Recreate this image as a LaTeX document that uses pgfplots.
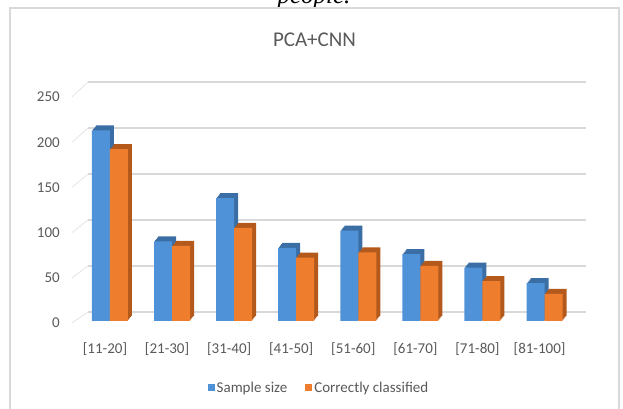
\documentclass[border=0pt]{standalone}
\usepackage{pgfplots}
\pgfplotsset{compat=1.18}
\usepackage{pgfplotstable}
\usepackage{fontspec}
\setmainfont{Carlito}
\newfontfamily\captionfont{Liberation Serif}

\definecolor{barblue}{HTML}{5092D8}
\definecolor{barbluedark}{HTML}{3A6EA5}
\definecolor{barorange}{HTML}{EE7D2E}
\definecolor{barorangedark}{HTML}{B3591C}
\definecolor{txtgray}{HTML}{595959}
\definecolor{gridgray}{HTML}{D9D9D9}

% age group, sample size, correctly classified
\pgfplotstableread{
idx sample correct
0 211 190
1 88 83
2 136 103
3 81 70
4 100 76
5 74 61
6 59 44
7 42 30
}\agegroups

\begin{document}
\begin{tikzpicture}[x=1pt,y=1pt]
% caption line of the surrounding text
\node[anchor=base, font=\captionfont\itshape\fontsize{25}{30}\selectfont] at (314,405) {people.};
% chart frame
\draw[gridgray, line width=1.3pt] (10,-5) rectangle (619,401);
\node[font=\fontsize{21}{25}\selectfont, text=txtgray] at (314.5,369) {PCA+CNN};

\begin{axis}[
  at={(72pt,88pt)}, anchor=south west,
  scale only axis, width=498pt, height=226pt,
  xmin=-0.612, xmax=7.41, ymin=0, ymax=250,
  clip=false,
  axis line style={draw=none}, tick style={draw=none},
  ytick={0,50,100,150,200,250},
  xtick={0,...,7},
  xticklabels={{[11-20]},{[21-30]},{[31-40]},{[41-50]},{[51-60]},{[61-70]},{[71-80]},{[81-100]}},
  ticklabel style={font=\fontsize{15}{18}\selectfont, text=txtgray},
  /pgf/number format/assume math mode=true,
  xticklabel style={anchor=center, xshift=-5pt, yshift=-24pt},
  yticklabel style={anchor=east, inner sep=0pt, xshift=-12pt, yshift=-2pt},
  ybar, bar width=18pt,
  legend columns=2,
  legend style={at={(0.496,-0.296)}, anchor=center, draw=none, fill=none,
    font=\fontsize{15}{18}\selectfont, text=txtgray,
    /tikz/every even column/.append style={column sep=16pt}},
  legend image code/.code={\fill[#1] (0pt,-3.5pt) rectangle (7pt,3.5pt);},
]
% back wall gridlines with the side wall edge
\pgfplotsinvokeforeach{0,50,100,150,200,250}{
  \draw[gridgray!70, line width=0.8pt] ([yshift=-2pt]axis cs:-0.612,#1) -- (axis cs:-0.354,{10+1.0176*#1});
  \draw[gridgray, line width=1.1pt] (axis cs:-0.354,{10+1.0176*#1}) -- (axis cs:7.665,{10+1.0176*#1});
}
% depth of the sample-size columns
\pgfplotsinvokeforeach{1,2,3,4}{
  \addplot[forget plot, fill=barbluedark, draw=none, bar shift=-9pt, xshift=#1pt, yshift={1.25*#1pt}]
    table[x=idx, y=sample]{\agegroups};
}
\addplot[fill=barblue, draw=none, bar shift=-9pt] table[x=idx, y=sample]{\agegroups};
\addlegendentry{Sample size}
% depth of the correctly-classified columns
\pgfplotsinvokeforeach{1,2,3,4}{
  \addplot[forget plot, fill=barorangedark, draw=none, bar shift=9pt, xshift=#1pt, yshift={1.25*#1pt}]
    table[x=idx, y=correct]{\agegroups};
}
\addplot[fill=barorange, draw=none, bar shift=9pt] table[x=idx, y=correct]{\agegroups};
\addlegendentry{Correctly classified}
\end{axis}
\pgfresetboundingbox
\useasboundingbox (0,0) rectangle (623,409);
\end{tikzpicture}
\end{document}
